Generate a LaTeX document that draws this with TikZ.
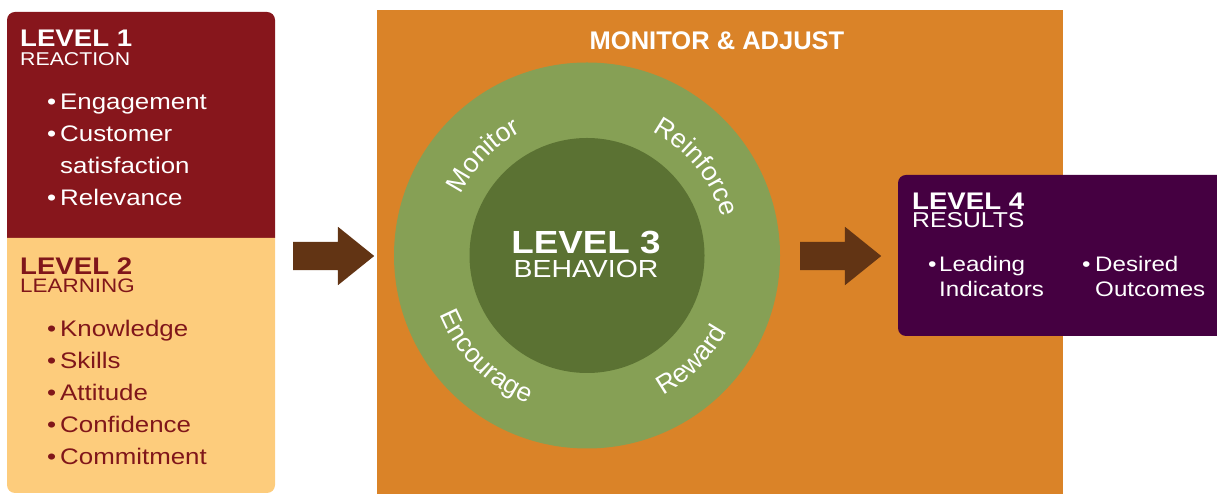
\documentclass[tikz,border=0pt]{standalone}
\usepackage{fontspec}
\usetikzlibrary{decorations.text,shapes.arrows}

\newfontfamily\widesf{Liberation Sans}[FakeStretch=1.15]
\newfontfamily\plainsf{Liberation Sans}

\definecolor{reactred}{RGB}{135,22,28}
\definecolor{learnsand}{RGB}{253,204,124}
\definecolor{learntext}{RGB}{128,22,26}
\definecolor{adjustorange}{RGB}{218,131,40}
\definecolor{ringgreen}{RGB}{134,160,85}
\definecolor{coregreen}{RGB}{91,114,51}
\definecolor{resultplum}{RGB}{69,0,65}
\definecolor{arrowbrown}{RGB}{98,52,20}

\newcommand\bul[1][13pt]{\makebox[#1][l]{\textbullet}}
\newcommand\nobul[1][13pt]{\hspace*{#1}}
\newcommand\ringfont{\plainsf\fontsize{26.5}{26.5}\selectfont\color{white}}

\tikzset{
  head/.style={anchor=base west, inner sep=0pt,
               font=\widesf\bfseries\fontsize{24}{24}\selectfont},
  sub/.style={anchor=base west, inner sep=0pt,
              font=\widesf\fontsize{#1}{#1}\selectfont},
  item/.style={anchor=base west, inner sep=0pt,
               font=\widesf\fontsize{22.5}{22.5}\selectfont},
  bigarrow/.style={single arrow, fill=arrowbrown, draw=none,
                   inner xsep=0pt, inner ysep=14pt, minimum height=81pt,
                   single arrow head extend=15pt, single arrow tip angle=77.7},
  ringtext/.style={decorate, decoration={text along path, text align=center,
                   text={|\ringfont|#1}}}
}

\begin{document}
\begin{tikzpicture}[x=1pt,y=1pt]
    \useasboundingbox (0,0) rectangle (1217,494);
    % Level 1 block
    \fill[reactred] (7,256) -- (7,474) arc[start angle=180, end angle=90, radius=8]
        -- (267,482) arc[start angle=90, end angle=0, radius=8] -- (275,256) -- cycle;
    \node[head, white] (react) at (20,447) {LEVEL 1};
    \node[sub=18.5, white] (reactsub) at (20,428) {REACTION};
    \foreach \txt [count=\i] in {\bul Engagement, \bul Customer, \nobul satisfaction, \bul Relevance}
        \node[item, white] (react\i) at (47,416-31.8*\i) {\txt};
    % Level 2 block
    \fill[learnsand] (7,256) -- (7,9) arc[start angle=180, end angle=270, radius=8]
        -- (267,1) arc[start angle=270, end angle=360, radius=8] -- (275,256) -- cycle;
    \node[head, learntext] (learn) at (20,219) {LEVEL 2};
    \node[sub=19.5, learntext] (learnsub) at (20,201) {LEARNING};
    \foreach \txt [count=\i] in {Knowledge, Skills, Attitude, Confidence, Commitment}
        \node[item, learntext] (learn\i) at (47,190-32.2*\i) {\bul\txt};
    % first arrow
    \node[bigarrow, anchor=tail] (arrowin) at (293,238) {};
    % Monitor & adjust panel
    \fill[adjustorange] (377,0) rectangle (1063,484);
    \node[anchor=base, inner sep=0pt, white,
          font=\plainsf\bfseries\fontsize{25.5}{25.5}\selectfont] (adjust) at (717,444) {MONITOR \& ADJUST};
    % Level 3 rings
    \node[circle, fill=ringgreen, inner sep=0pt, minimum size=386pt] (ring) at (587,238.5) {};
    \node[circle, fill=coregreen, inner sep=0pt, minimum size=235pt] (core) at (ring.center) {};
    \node[anchor=base, inner sep=0pt, white,
          font=\widesf\bfseries\fontsize{32}{32}\selectfont] (behave) at (586,240) {LEVEL 3};
    \node[anchor=base, inner sep=0pt, white,
          font=\widesf\fontsize{24.7}{24.7}\selectfont] (behavesub) at (586,216) {BEHAVIOR};
    \path[ringtext=Monitor] (ring.center) ++(181:140) arc[start angle=181, end angle=91, radius=140];
    \path[ringtext=Reinforce] (ring.center) ++(84:140) arc[start angle=84, end angle=-6, radius=140];
    \path[ringtext=Encourage] (ring.center) ++(180:159) arc[start angle=180, end angle=270, radius=159];
    \path[ringtext=Reward] (ring.center) ++(270:159) arc[start angle=270, end angle=360, radius=159];
    % second arrow
    \node[bigarrow, anchor=tail] (arrowout) at (800,238) {};
    % Level 4 block
    \fill[resultplum] (1217,319) -- (906,319) arc[start angle=90, end angle=180, radius=8]
        -- (898,166) arc[start angle=180, end angle=270, radius=8] -- (1217,158) -- cycle;
    \node[head, white] (result) at (912,284) {LEVEL 4};
    \node[sub=21.5, white] (resultsub) at (912,266) {RESULTS};
    \node[sub=21, white] (lead) at (928,222) {\bul[11pt]Leading};
    \node[sub=21, white] (leadb) at (928,197) {\nobul[11pt]Indicators};
    \node[sub=21, white] (desire) at (1082,222) {\bul[13pt]Desired};
    \node[sub=21, white] (desireb) at (1082,197) {\nobul[13pt]Outcomes};
\end{tikzpicture}
\end{document}
